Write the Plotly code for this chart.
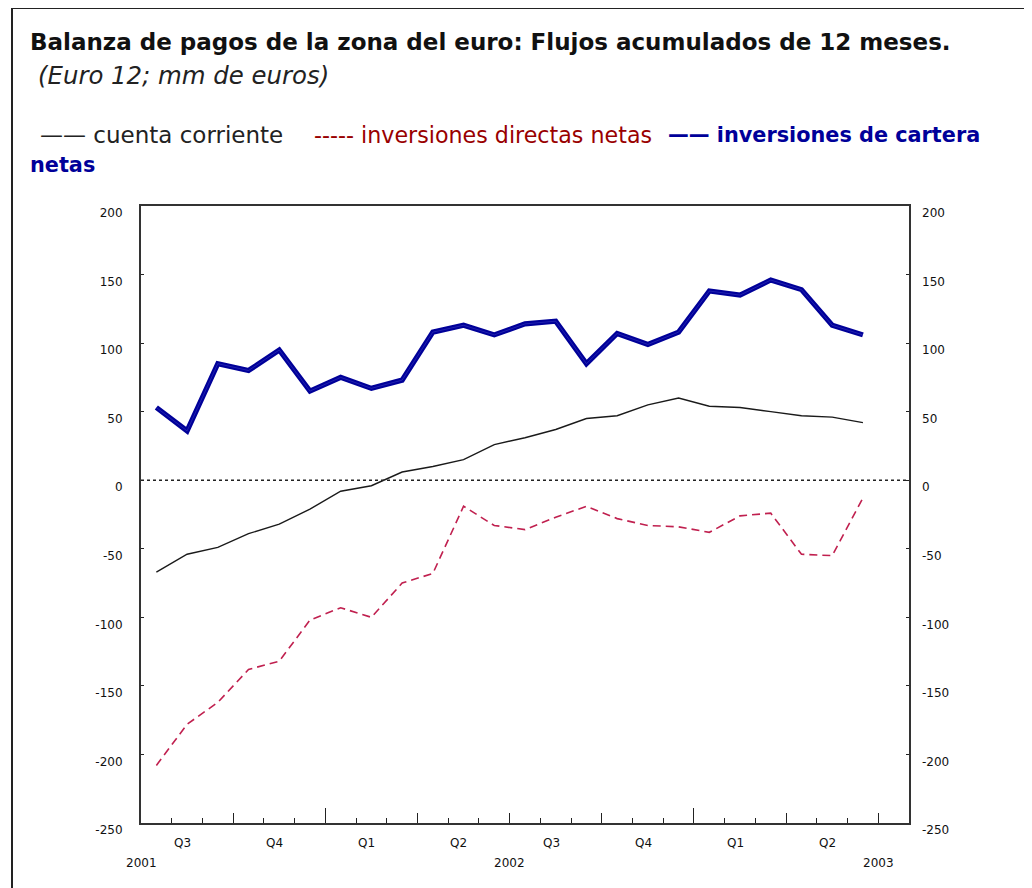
import plotly.graph_objects as go

# ---------------- data ----------------
months = ["2001-07", "2001-08", "2001-09", "2001-10", "2001-11", "2001-12",
          "2002-01", "2002-02", "2002-03", "2002-04", "2002-05", "2002-06",
          "2002-07", "2002-08", "2002-09", "2002-10", "2002-11", "2002-12",
          "2003-01", "2003-02", "2003-03", "2003-04", "2003-05", "2003-06"]

cuenta_corriente = [-67, -54, -49, -39, -32, -21, -8, -4, 6, 10, 15, 26,
                    31, 37, 45, 47, 55, 60, 54, 53, 50, 47, 46, 42]

inversiones_directas = [-208, -178, -162, -138, -132, -102, -93, -100, -75, -68, -19, -33,
                        -36, -27, -19, -28, -33, -34, -38, -26, -24, -54, -55, -13]

inversiones_cartera = [53, 36, 85, 80, 95, 65, 75, 67, 73, 108, 113, 106,
                       114, 116, 85, 107, 99, 108, 138, 135, 146, 139, 113, 106]

quarter_labels = ["Q3", "Q4", "Q1", "Q2", "Q3", "Q4", "Q1", "Q2"]
year_labels = ["2001", "2002", "2003"]
y_ticks = [200, 150, 100, 50, 0, -50, -100, -150, -200, -250]

title = "Balanza de pagos de la zona del euro: Flujos acumulados de 12 meses."
subtitle = "(Euro 12; mm de euros)"

# ---------------- geometry helpers (page pixels; body has an 8px margin) ----------------
OFF = 8
W, H = 1032 - OFF, 888 - OFF
PL, PR, PT, PB = 141, 909, 206, 823   # plot area in page pixels


def px_x(p):
    return (p - PL) / (PR - PL)


def px_y(p):
    return (PB - p) / (PB - PT)


idx = list(range(len(months)))
n = len(months)

BLACK = "#1a1a1a"
RED_LINE = "#c0204f"
RED_TEXT = "#990000"
BLUE = "#000099"

fig = go.Figure()

fig.add_trace(go.Scatter(x=idx, y=cuenta_corriente, mode="lines",
                         line=dict(color=BLACK, width=1.4),
                         name="cuenta corriente", showlegend=False))
fig.add_trace(go.Scatter(x=idx, y=inversiones_directas, mode="lines",
                         line=dict(color=RED_LINE, width=1.6, dash="8px,5px"),
                         name="inversiones directas netas", showlegend=False))
fig.add_trace(go.Scatter(x=idx, y=inversiones_cartera, mode="lines",
                         line=dict(color=BLUE, width=5.2),
                         name="inversiones de cartera netas", showlegend=False))
fig.add_trace(go.Scatter(x=idx, y=inversiones_cartera, mode="lines",
                         line=dict(color="rgba(90,90,210,0.6)", width=0.6),
                         hoverinfo="skip", showlegend=False))
# invisible trace to anchor the right-hand axis
fig.add_trace(go.Scatter(x=idx, y=cuenta_corriente, mode="lines", yaxis="y2",
                         line=dict(width=0), hoverinfo="skip", showlegend=False))
# invisible trace to anchor the year-tick axis
fig.add_trace(go.Scatter(x=idx, y=cuenta_corriente, mode="lines", xaxis="x2",
                         line=dict(width=0), hoverinfo="skip", showlegend=False))

# x-axis ticks: monthly boundaries (minor), quarterly (major), years (long)
month_bounds = [i - 0.5 for i in range(n + 2)]
quarter_bounds = [b for b in month_bounds if (round(b + 0.5)) % 3 == 0 and 0 < b < n + 1]
year_bounds = [b for b in quarter_bounds if (round(b + 0.5)) % 12 == 6]

tick_font = dict(family="DejaVu Sans", size=12, color="#111")
y_text = [str(v) for v in y_ticks]   # plain hyphen minus

fig.update_layout(
    width=W, height=H,
    margin=dict(l=PL - OFF, r=(W + OFF) - PR, t=PT - OFF, b=(H + OFF) - PB),
    paper_bgcolor="white", plot_bgcolor="white",
    xaxis=dict(range=[-0.5, n + 0.5], tickmode="array", tickvals=quarter_bounds,
               showticklabels=False, ticks="inside", ticklen=10, tickwidth=1.3,
               tickcolor="#222", showgrid=False, zeroline=False,
               showline=True, linecolor="#333", linewidth=2, mirror=True,
               minor=dict(tickmode="array", tickvals=month_bounds, ticks="inside",
                          ticklen=5, tickwidth=1.2, tickcolor="#222", showgrid=False)),
    xaxis2=dict(range=[-0.5, n + 0.5], overlaying="x", matches="x", anchor="y",
                tickmode="array", tickvals=year_bounds, showticklabels=False,
                ticks="inside", ticklen=15, tickwidth=1.3, tickcolor="#222",
                showgrid=False, zeroline=False, showline=False),
    yaxis=dict(range=[-250, 200], tickmode="array", tickvals=y_ticks, ticktext=y_text,
               ticks="inside", ticklen=3, tickcolor="#222", tickfont=tick_font,
               ticklabelstandoff=14, ticklabelshift=7,
               showgrid=False, zeroline=False,
               showline=True, linecolor="#333", linewidth=2, mirror=True),
    yaxis2=dict(range=[-250, 200], overlaying="y", side="right", anchor="x",
                tickmode="array", tickvals=y_ticks, ticktext=y_text, ticks="inside",
                ticklen=3, tickcolor="#222", tickfont=tick_font, ticklabelstandoff=12,
                ticklabelshift=7, showgrid=False, zeroline=False, showline=False),
    showlegend=False,
)

# dotted zero line
fig.add_shape(type="line", xref="paper", yref="y", x0=0, x1=1, y0=0, y1=0,
              line=dict(color="#222", width=1.5, dash="dot"))

# outer frame
fig.add_shape(type="rect", xref="paper", yref="paper",
              x0=px_x(12), x1=px_x(1045), y0=px_y(900), y1=px_y(8),
              line=dict(color="#222", width=2), fillcolor="rgba(0,0,0,0)", layer="above")

# quarter & year labels
for k, lab in enumerate(quarter_labels):
    xc = 3 * k + 1 - 0.15
    fig.add_annotation(x=xc, y=px_y(843), xref="x", yref="paper", text=lab,
                       showarrow=False, font=tick_font, xanchor="center", yanchor="middle")
for k, lab in enumerate(year_labels):
    xc = 12 * k - 0.5
    fig.add_annotation(x=xc, y=px_y(863), xref="x", yref="paper", text=lab,
                       showarrow=False, font=tick_font, xanchor="center", yanchor="middle")

# titles
FONT = "DejaVu Sans"
fig.add_annotation(x=px_x(28), y=px_y(42), xref="paper", yref="paper",
                   text="<b>" + title + "</b>", showarrow=False,
                   font=dict(family=FONT, size=23, color="#111"),
                   xanchor="left", yanchor="middle")
fig.add_annotation(x=px_x(36), y=px_y(75), xref="paper", yref="paper",
                   text="<i>" + subtitle + "</i>", showarrow=False,
                   font=dict(family=FONT, size=24.4, color="#222"),
                   xanchor="left", yanchor="middle")

# legend as text
fig.add_annotation(x=px_x(38), y=px_y(135), xref="paper", yref="paper",
                   text="—— cuenta corriente", showarrow=False,
                   font=dict(family=FONT, size=23, color="#222"),
                   xanchor="left", yanchor="middle")
fig.add_annotation(x=px_x(312), y=px_y(135), xref="paper", yref="paper",
                   text="----- inversiones directas netas", showarrow=False,
                   font=dict(family=FONT, size=22.2, color=RED_TEXT),
                   xanchor="left", yanchor="middle")
fig.add_annotation(x=px_x(666), y=px_y(135), xref="paper", yref="paper",
                   text="<b>—— inversiones de cartera</b>", showarrow=False,
                   font=dict(family=FONT, size=20.8, color=BLUE),
                   xanchor="left", yanchor="middle")
fig.add_annotation(x=px_x(28), y=px_y(165), xref="paper", yref="paper",
                   text="<b>netas</b>", showarrow=False,
                   font=dict(family=FONT, size=20.8, color=BLUE),
                   xanchor="left", yanchor="middle")

fig.write_html("out.html")
